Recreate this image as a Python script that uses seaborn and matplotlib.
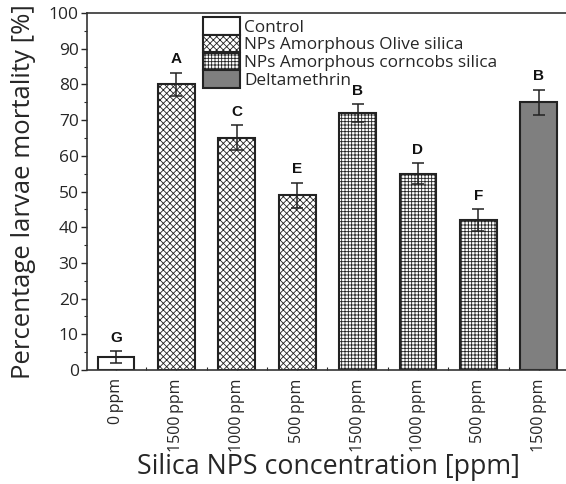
import numpy as np
import pandas as pd
import matplotlib
matplotlib.use("Agg")
import matplotlib.pyplot as plt
from matplotlib.patches import Patch
import seaborn as sns

# Treatment groups, doses and measured larval mortality
groups = ["Control", "NPs Amorphous Olive silica", "NPs Amorphous Olive silica",
          "NPs Amorphous Olive silica", "NPs Amorphous corncobs silica",
          "NPs Amorphous corncobs silica", "NPs Amorphous corncobs silica",
          "Deltamethrin"]
doses = ["0\u2009ppm", "1500\u2009ppm", "1000\u2009ppm", "500\u2009ppm",
         "1500\u2009ppm", "1000\u2009ppm", "500\u2009ppm", "1500\u2009ppm"]
mortality = [3.7, 80, 65, 49, 72, 55, 42, 75]
errors = [1.6, 3.3, 3.5, 3.5, 2.5, 3.0, 3.0, 3.5]
letters = ["G", "A", "C", "E", "B", "D", "F", "B"]

legend_labels = ["Control", "NPs Amorphous Olive silica",
                 "NPs Amorphous corncobs silica", "Deltamethrin"]

styles = {
    "Control": dict(facecolor="white", hatch=None),
    "NPs Amorphous Olive silica": dict(facecolor="white", hatch="xxxxx"),
    "NPs Amorphous corncobs silica": dict(facecolor="white", hatch="+++++"),
    "Deltamethrin": dict(facecolor="#7f7f7f", hatch=None),
}

sns.set_style("ticks")
plt.rcParams["font.family"] = ["Open Sans", "DejaVu Sans"]
plt.rcParams["hatch.linewidth"] = 0.6
plt.rcParams["hatch.color"] = "#222222"

df = pd.DataFrame({"slot": [f"s{i}" for i in range(len(doses))],
                   "group": groups, "mortality": mortality})

fig = plt.figure(figsize=(5.66, 4.84), dpi=100)
ax = fig.add_axes([87 / 566, 114 / 484, 482 / 566, 357 / 484])

sns.barplot(data=df, x="slot", y="mortality", color="white", width=0.61,
            edgecolor="#222222", linewidth=1.5, errorbar=None, ax=ax)

for patch, grp in zip(ax.patches, groups):
    st = styles[grp]
    patch.set_facecolor(st["facecolor"])
    if st["hatch"]:
        patch.set_hatch(st["hatch"])

x = np.arange(len(mortality))
ax.errorbar(x, mortality, yerr=errors, fmt="none", ecolor="#222222",
            elinewidth=1.1, capsize=4, capthick=1.1)

for xi, v, e, t in zip(x, mortality, errors, letters):
    ax.text(xi, v + e + 1.8, t, ha="center", va="bottom", fontsize=11,
            fontweight="bold", family="Liberation Sans", color="#111111")

ax.set_xlim(-0.48, 7.5)
ax.set_ylim(0, 100)
ax.set_yticks(np.arange(0, 101, 10))
ax.set_yticks(np.arange(5, 100, 10), minor=True)
ax.set_xticks(x)
ax.set_xticks(x[:-1] + 0.5, minor=True)
ax.set_xticklabels(doses, rotation=90, fontsize=11.5)
ax.tick_params(axis="y", which="major", direction="out", length=4, width=1,
               labelsize=12.5, pad=2)
ax.tick_params(axis="y", which="minor", direction="out", length=2.5, width=0.8)
ax.tick_params(axis="x", which="major", direction="in", length=5, width=1, pad=6)
ax.tick_params(axis="x", which="minor", direction="in", length=2.5, width=0.8)

for sp in ax.spines.values():
    sp.set_linewidth(1.2)
    sp.set_color("#333333")

ax.set_xlabel("Silica NPS concentration [ppm]", fontsize=19.3, labelpad=1)
ax.set_ylabel("Percentage larvae mortality [%]", fontsize=18.5, labelpad=9)

handles = [Patch(facecolor=styles[g]["facecolor"], hatch=styles[g]["hatch"],
                 edgecolor="#222222", linewidth=1.5) for g in legend_labels]
ax.legend(handles, legend_labels, loc="upper left",
          bbox_to_anchor=((203 - 87) / 482, 1 - (17 - 13) / 357),
          frameon=False, fontsize=12.4, handlelength=2.15, handleheight=1.2,
          handletextpad=0.25, labelspacing=-0.05, borderpad=0, borderaxespad=0)

fig.savefig("out.png", dpi=100)
